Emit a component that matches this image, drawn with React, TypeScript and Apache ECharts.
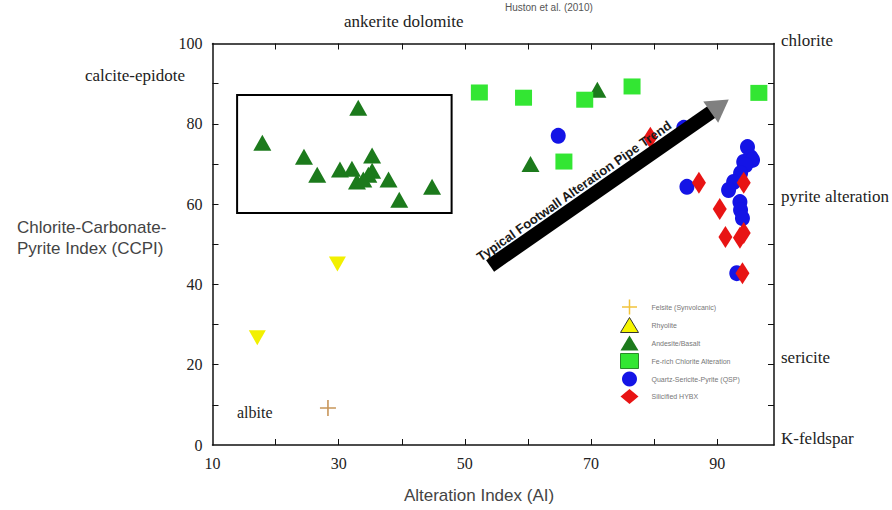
import React, { useEffect, useRef } from 'react';
import * as echarts from 'echarts';

// ---- axis ticks / labels ----
const xTickValues = [20, 30, 40, 50, 60, 70, 80, 90];
const xLabelValues = [10, 30, 50, 70, 90];
const yTickValues = [10, 20, 30, 40, 50, 60, 70, 80, 90];
const yLabelValues = [0, 20, 40, 60, 80, 100];

// ---- series names ----
const seriesNames = [
  'Felsite (Synvolcanic)',
  'Rhyolite',
  'Andesite/Basalt',
  'Fe-rich Chlorite Alteration',
  'Quartz-Sericite-Pyrite (QSP)',
  'Silicified HYBX',
];

// ---- data [AI, CCPI] ----
const felsite = [[28.3, 9.2]];
const rhyolite = [[17.1, 26.7], [29.8, 45.1]];
const andesite = [
  [17.9, 75.3], [24.5, 71.8], [26.6, 67.3], [30.2, 68.6], [32.1, 68.8], [33.1, 84.0],
  [35.3, 72.1], [35.3, 68.3], [34.7, 67.3], [32.9, 65.6], [33.9, 66.1], [37.9, 66.1],
  [39.6, 61.1], [44.8, 64.3], [71.0, 88.5], [60.4, 70.0],
];
const feChlorite = [[52.3, 87.8], [59.3, 86.5], [69.0, 86.0], [76.5, 89.3], [65.7, 70.6], [96.6, 87.7]];
const qsp = [
  [64.8, 77.0], [84.7, 79.0], [85.2, 64.3], [94.8, 74.2], [95.3, 71.7], [94.2, 70.5],
  [95.6, 71.0], [94.5, 69.7], [93.7, 67.7], [92.6, 65.5], [91.8, 63.5], [93.6, 60.5],
  [93.7, 58.5], [94.0, 56.5], [93.1, 42.8],
];
const hybx = [
  [79.4, 76.5], [87.1, 65.3], [94.2, 65.3], [90.4, 58.8], [91.3, 51.8], [93.6, 51.6],
  [94.2, 52.8], [94.0, 42.8],
];

// ---- annotations ----
const pipeBox = [[13.9, 87.2], [47.9, 57.8]];
const trendShaft = [[54.0, 44.6], [89.3, 83.2]];
const trendHead = [[90.4, 84.5]];
const trendText = 'Typical Footwall Alteration Pipe Trend';

const PLUS = 'path://M9,0h2v9h9v2h-9v9h-2v-9h-9v-2h9z';
const SERIF = '"Liberation Serif", "Times New Roman", serif';
const SANS = '"Liberation Sans", Arial, sans-serif';

export default function App() {
  const ref = useRef<HTMLDivElement>(null);
  useEffect(() => {
    if (!ref.current) return;
    const chart = echarts.init(ref.current, undefined, { renderer: 'svg' });
    const axisLine = { show: true, onZero: false, lineStyle: { color: '#111', width: 1.5 } };
    const serifText = (text: string, x: number, y: number, size = 17) => ({
      type: 'text', x, y,
      style: { text, fontFamily: SERIF, fontSize: size, fill: '#222', verticalAlign: 'middle' },
    });
    chart.setOption({
      animation: false,
      backgroundColor: '#fff',
      grid: { left: 212.5, top: 43.5, width: 561.5, height: 401.5, outerBoundsMode: 'none' },
      xAxis: [
        {
          type: 'value', position: 'bottom', min: 10, max: 99, interval: 10,
          axisLine, splitLine: { show: false },
          axisTick: { inside: true, length: 6, customValues: xTickValues, lineStyle: { color: '#111' } },
          axisLabel: { customValues: xLabelValues, margin: 10, fontFamily: SERIF, fontSize: 16, color: '#222' },
        },
        {
          type: 'value', position: 'top', min: 10, max: 99, interval: 10,
          axisLine, splitLine: { show: false },
          axisTick: { inside: true, length: 6, customValues: xTickValues, lineStyle: { color: '#111' } },
          axisLabel: { show: false },
        },
      ],
      yAxis: [
        {
          type: 'value', position: 'left', min: 0, max: 100, interval: 10,
          axisLine, splitLine: { show: false },
          axisTick: { show: true, inside: true, length: 6, customValues: yTickValues, lineStyle: { color: '#111' } },
          axisLabel: { customValues: yLabelValues, margin: 10, fontFamily: SERIF, fontSize: 16, color: '#222' },
        },
        {
          type: 'value', position: 'right', min: 0, max: 100, interval: 10,
          axisLine, splitLine: { show: false },
          axisTick: { show: true, inside: true, length: 6, customValues: yTickValues, lineStyle: { color: '#111' } },
          axisLabel: { show: false },
        },
      ],
      legend: {
        orient: 'vertical', left: 620, top: 299.5, padding: 0,
        itemWidth: 18, itemHeight: 15, itemGap: 2.5, symbolRotate: 0,
        textStyle: { fontFamily: SANS, fontSize: 7, color: '#777', padding: [0, 0, 0, 8] },
        data: [
          { name: seriesNames[0], icon: PLUS, itemStyle: { color: '#f2c33c' } },
          { name: seriesNames[1], icon: 'triangle', itemStyle: { color: '#f5f500', borderColor: '#333', borderWidth: 1 } },
          { name: seriesNames[2], icon: 'triangle' },
          { name: seriesNames[3], icon: 'rect', itemStyle: { borderColor: '#2a8a2a', borderWidth: 1 } },
          { name: seriesNames[4], icon: 'circle' },
          { name: seriesNames[5], icon: 'diamond' },
        ],
      },
      series: [
        {
          name: seriesNames[0], type: 'scatter', data: felsite, symbol: PLUS, symbolSize: 16,
          itemStyle: { color: '#c8965a', opacity: 1 },
        },
        {
          name: seriesNames[1], type: 'scatter', data: rhyolite, symbol: 'triangle', symbolRotate: 180,
          symbolSize: [17, 15], itemStyle: { color: '#f2f000', opacity: 1 },
        },
        {
          name: seriesNames[2], type: 'scatter', data: andesite, symbol: 'triangle', symbolSize: [18, 16],
          itemStyle: { color: '#1c7a1c', opacity: 1 },
          markArea: {
            silent: true,
            itemStyle: { color: 'rgba(0,0,0,0)', borderColor: '#000', borderWidth: 2 },
            label: { show: false },
            data: [[{ coord: pipeBox[0] }, { coord: pipeBox[1] }]],
          },
        },
        {
          name: seriesNames[3], type: 'scatter', data: feChlorite, symbol: 'rect', symbolSize: [17, 16],
          itemStyle: { color: '#33e633', opacity: 1 },
        },
        {
          name: seriesNames[4], type: 'scatter', data: qsp, symbol: 'circle', symbolSize: [15, 16],
          itemStyle: { color: '#1414e6', opacity: 1 },
        },
        {
          name: seriesNames[5], type: 'scatter', data: hybx, symbol: 'diamond', symbolSize: [14, 22],
          itemStyle: { color: '#e81414', opacity: 1 },
        },
        {
          name: 'trend', type: 'line', data: trendShaft, symbol: 'none', silent: true, z: 5,
          lineStyle: { color: '#000', width: 14, cap: 'butt' },
        },
        {
          name: 'trendHead', type: 'scatter', data: trendHead, symbol: 'triangle', symbolSize: [26, 22],
          symbolRotate: -55, silent: true, z: 6, itemStyle: { color: '#808080', opacity: 1 },
        },
      ],
      graphic: [
        {
          type: 'text', x: 574, y: 191, rotation: (35 * Math.PI) / 180, z: 10,
          style: {
            text: trendText, fontFamily: '"Liberation Sans Narrow", "Liberation Sans", sans-serif',
            fontWeight: 'bold', fontSize: 13, fill: '#1a1a1a', align: 'center', verticalAlign: 'middle',
          },
        },
        {
          type: 'text', x: 505, y: 7,
          style: { text: 'Huston et al. (2010)', fontFamily: SANS, fontSize: 10, fill: '#555', verticalAlign: 'middle' },
        },
        serifText('ankerite dolomite', 344, 21),
        serifText('calcite-epidote', 85, 75),
        serifText('chlorite', 781, 40),
        serifText('pyrite alteration', 781, 196),
        serifText('sericite', 781, 357),
        serifText('K-feldspar', 781, 438),
        serifText('albite', 237, 412, 16),
        {
          type: 'text', x: 17, y: 238,
          style: {
            text: 'Chlorite-Carbonate-\nPyrite Index (CCPI)', fontFamily: SANS, fontSize: 17,
            fill: '#444', lineHeight: 21, verticalAlign: 'middle',
          },
        },
        {
          type: 'text', x: 479, y: 495,
          style: {
            text: 'Alteration Index (AI)', fontFamily: SANS, fontSize: 17, fill: '#444',
            align: 'center', verticalAlign: 'middle',
          },
        },
      ],
    });
    return () => chart.dispose();
  }, []);
  return <div ref={ref} style={{ position: 'absolute', left: 0, top: 0, width: 892, height: 510 }} />;
}
